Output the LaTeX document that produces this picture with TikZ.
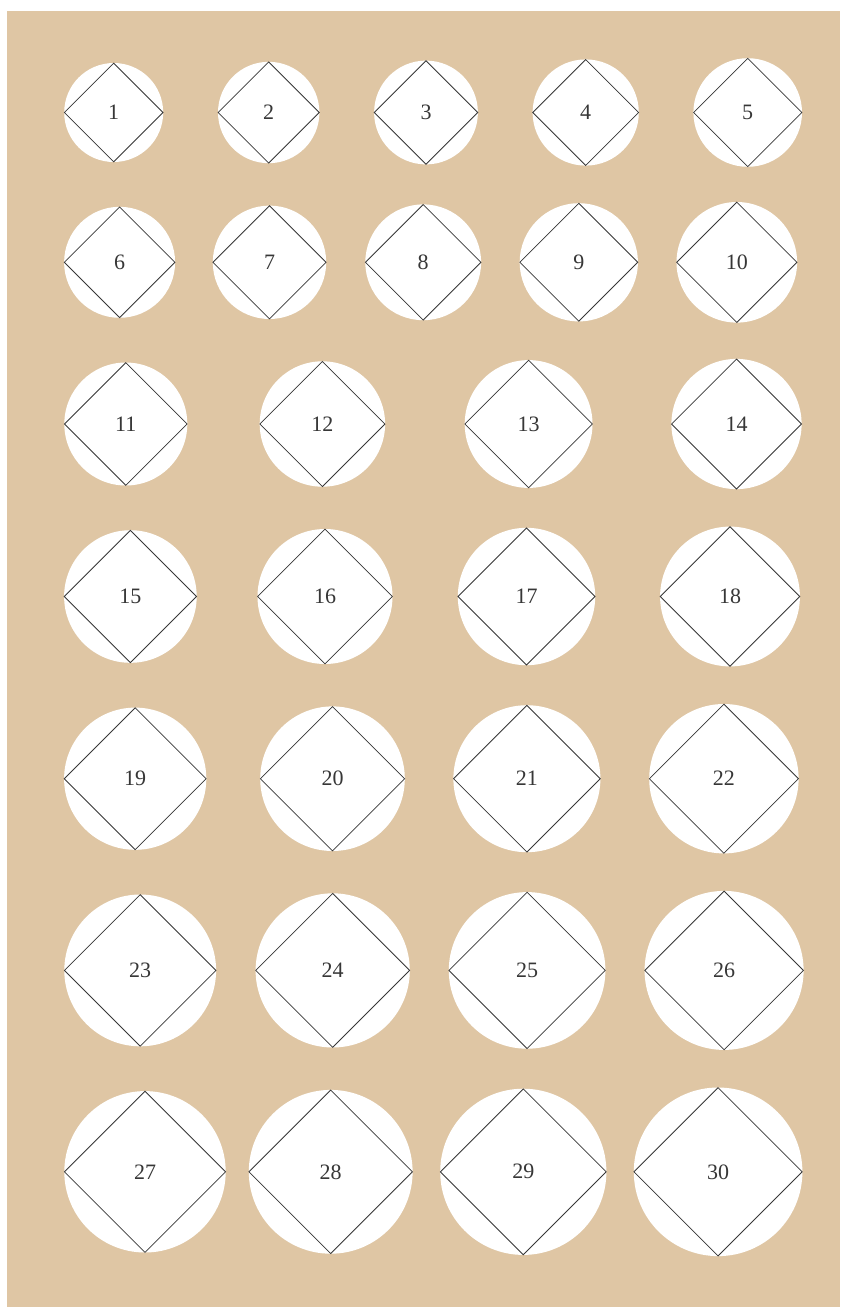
\documentclass[tikz,border=0pt]{standalone}
\usepackage{fontspec}
\setmainfont{Liberation Serif}
\usetikzlibrary{shapes.geometric}
\definecolor{bg}{RGB}{223,198,164}
\definecolor{ink}{RGB}{55,55,55}
\begin{document}
\begin{tikzpicture}[x=0.75pt,y=-0.75pt,
  disc/.style={circle,fill=white,inner sep=0pt,outer sep=0pt},
  rhomb/.style={diamond,aspect=1,draw=ink,line width=0.6pt,inner sep=0pt,text=ink,font=\fontsize{16.5}{20}\selectfont}]
\useasboundingbox (0,0) rectangle (840,1307);
\fill[bg] (7,11) rectangle (840,1307);
\foreach \i/\x/\y in {
  1/113.7/112.5, 2/268.7/112.5, 3/426/112.5, 4/585.7/112.5, 5/747.7/112.5,
  6/119.6/262.3, 7/269.5/262.3, 8/423.2/262.3, 9/578.8/262.3, 10/736.8/262.3,
  11/125.8/424, 12/322.4/424, 13/528.6/424, 14/736.5/424,
  15/130.4/596.5, 16/325/596.5, 17/526.5/596.5, 18/730/596.5,
  19/135.2/778.7, 20/332.5/778.7, 21/526.9/778.7, 22/723.9/778.7,
  23/140.2/970.4, 24/332.7/970.4, 25/527.1/970.4, 26/724.1/970.4,
  27/145/1171.8, 28/330.7/1171.8, 29/523.3/1171.8, 30/718.1/1171.8} {
  \pgfmathsetmacro{\dd}{(49.5+1.2*(\i-1))*1.5}
  \node[disc,minimum size=\dd pt] (c\i) at (\x,\y) {};
  \node[rhomb,minimum size=\dd pt] (d\i) at (\x,\y) {\i};
}
\end{tikzpicture}
\end{document}
